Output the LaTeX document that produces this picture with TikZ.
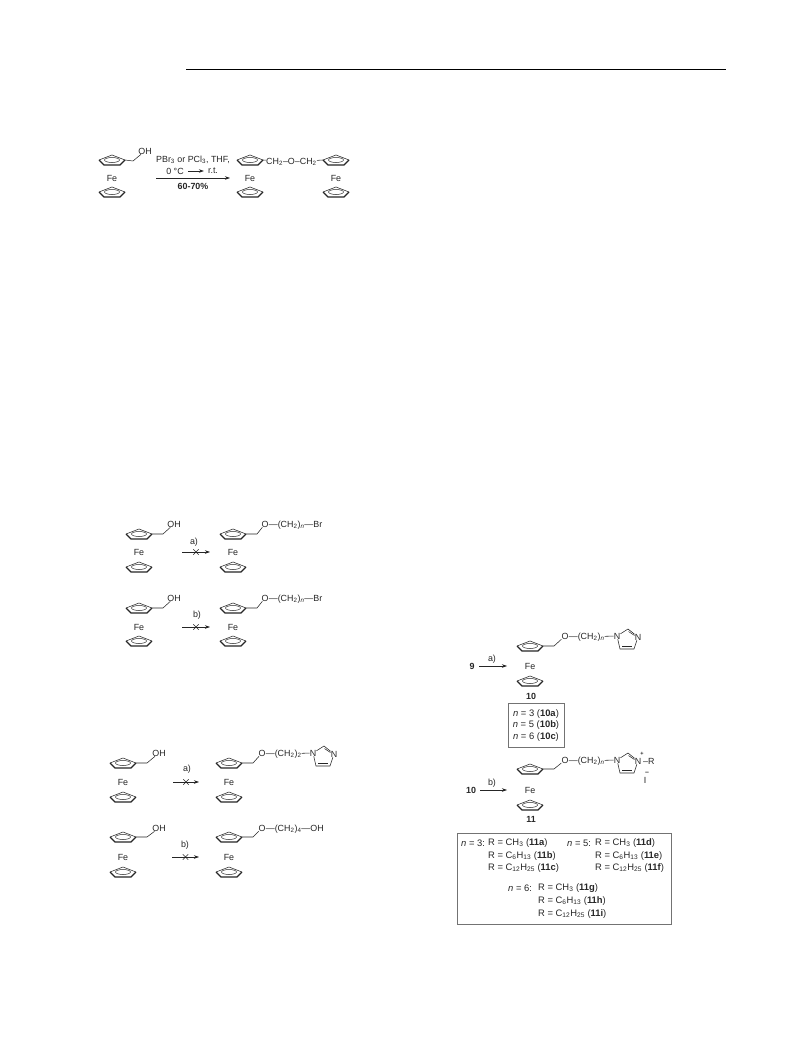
\documentclass[tikz,border=0pt]{standalone}
\usepackage{fontspec}
\setmainfont{Liberation Sans}
\usetikzlibrary{positioning,shapes.misc,arrows.meta}
\newcommand{\ssub}[1]{\textsubscript{#1}}
\tikzset{
  lbl/.style={inner sep=0pt, font=\fontsize{8.9}{10}\selectfont, text=black!85},
  boldlbl/.style={lbl, font=\fontsize{8.9}{10}\selectfont\bfseries},
  boxlbl/.style={lbl, font=\fontsize{9.4}{10}\selectfont},
  bond/.style={line width=0.55pt, draw=black!85},
  rxn/.style={line width=0.55pt, draw=black!85, -{Stealth[length=5pt,width=3.5pt]}},
  xmark/.style={cross out, draw=black!85, line width=0.45pt, minimum size=5pt, inner sep=0pt},
  framebox/.style={draw=black!55, line width=0.8pt, inner sep=0pt},
  pics/cpring/.style={code={
    \fill[white] (-13,0) -- (0,-5) -- (13,0) -- (8,5) -- (-8,5) -- cycle;
    \draw[bond] (-13,0) -- (0,-5) -- (13,0);
    \draw[line width=1.3pt, black!85, line join=round] (-13,0) -- (-8,5) -- (8,5) -- (13,0);
    \draw[line width=0.5pt, black!85] (0,0) ellipse (7.5 and 2.5);
    \coordinate (-tip) at (13,0);
    \coordinate (-lft) at (-13,0);
  }},
  pics/ferrocene/.style 2 args={code={
    \pic (-top) at (0,0) {cpring};
    \node[lbl] (-fe) at (0,#1) {Fe};
    \pic (-bot) at (0,#2) {cpring};
  }},
  pics/imidazole/.style={code={
    \node[lbl] (-n1) at (0,0) {N};
    \node[lbl] (-n3) at (21,1) {N};
    \coordinate (-c2) at (11,-7);
    \coordinate (-c4) at (17,13);
    \coordinate (-c5) at (3,13);
    \draw[bond] (-n1) -- (-c2) -- (-n3) -- (-c4) -- (-c5) -- (-n1);
    \draw[bond] (11.5,-4.5) -- (17.5,-0.5);
    \draw[bond] (5,10.5) -- (15,10.5);
  }},
}
\begin{document}
\begin{tikzpicture}[x=1pt,y=-1pt]
  \useasboundingbox (0,0) rectangle (789,1057);
  \coordinate (ruleL) at (186,69);
  \coordinate (ruleR) at (726,69);
  \draw[line width=0.7pt] (ruleL) -- (ruleR);

  % ether formation
  \pic (fa) at (112,160) {ferrocene={18}{32}};
  \node[lbl] (ohA) at (145,151) {OH};
  \draw[bond] (fa-top-tip) -- ++(8,1) -- (ohA);
  \coordinate (arA) at (156,178);
  \coordinate (arB) at (230,178);
  \draw[rxn] (arA) -- (arB);
  \node[lbl] (condA) at (193,160) {PBr\ssub{3} or PCl\ssub{3}, THF,};
  \node[lbl] (condB) at (175,171) {0 °C};
  \node[lbl] (condD) at (213,171) {r.t.};
  \draw[rxn] ([xshift=4pt]condB.east) -- ([xshift=-4pt]condD.west);
  \node[boldlbl] (condC) at (193,186) {60-70\%};
  \pic (fb) at (250,160) {ferrocene={18}{32}};
  \pic (fc) at (336,160) {ferrocene={18}{32}};
  \node[lbl, anchor=west] (ether) at (266,162) {CH\ssub{2}–O–CH\ssub{2}};
  \draw[bond] (fb-top-tip) -- (ether);
  \draw[bond] (ether) -- (fc-top-lft);

  % failed bromides
  \pic (fd) at (139,534) {ferrocene={18}{33}};
  \node[lbl] (ohB) at (174,524) {OH};
  \draw[bond] (fd-top-tip) -- ++(11,0) -- (ohB);
  \coordinate (arC) at (182,552);
  \coordinate (arD) at (210,552);
  \draw[rxn] (arC) -- node[xmark] (xa) {} (arD);
  \node[lbl] (la) at (194,542) {a)};
  \pic (fe) at (233,534) {ferrocene={18}{33}};
  \node[lbl] (oa) at (265,524) {O};
  \node[lbl, base right=0pt of oa] (cha) {—(CH\ssub{2})\ssub{\textit{n}}—Br};
  \draw[bond] (fe-top-tip) -- ++(11,0) -- (oa);

  \pic (ff) at (139,608) {ferrocene={19}{33}};
  \node[lbl] (ohC) at (174,598) {OH};
  \draw[bond] (ff-top-tip) -- ++(11,0) -- (ohC);
  \coordinate (arE) at (182,627);
  \coordinate (arF) at (210,627);
  \draw[rxn] (arE) -- node[xmark] (xb) {} (arF);
  \node[lbl] (lb) at (197,615) {b)};
  \pic (fg) at (233,608) {ferrocene={19}{33}};
  \node[lbl] (ob) at (265,598) {O};
  \node[lbl, base right=0pt of ob] (chb) {—(CH\ssub{2})\ssub{\textit{n}}—Br};
  \draw[bond] (fg-top-tip) -- ++(11,0) -- (ob);

  % failed imidazole and butanol
  \pic (fh) at (123,763) {ferrocene={19}{34}};
  \node[lbl] (ohD) at (159,753) {OH};
  \draw[bond] (fh-top-tip) -- ++(11,0) -- (ohD);
  \coordinate (arG) at (173,782);
  \coordinate (arH) at (199,782);
  \draw[rxn] (arG) -- node[xmark] (xc) {} (arH);
  \node[lbl] (lc) at (187,769) {a)};
  \pic (fi) at (229,763) {ferrocene={19}{34}};
  \node[lbl] (oc) at (262,753) {O};
  \node[lbl, base right=0pt of oc] (chc) {—(CH\ssub{2})\ssub{2}};
  \draw[bond] (fi-top-tip) -- ++(11,0) -- (oc);
  \pic (ia) at (313,753) {imidazole};
  \draw[bond] (chc) -- (ia-n1);

  \pic (fj) at (123,837) {ferrocene={20}{35}};
  \node[lbl] (ohE) at (159,828) {OH};
  \draw[bond] (fj-top-tip) -- ++(11,0) -- (ohE);
  \coordinate (arI) at (172,857);
  \coordinate (arJ) at (199,857);
  \draw[rxn] (arI) -- node[xmark] (xd) {} (arJ);
  \node[lbl] (ld) at (185,845) {b)};
  \pic (fk) at (229,837) {ferrocene={20}{35}};
  \node[lbl] (od) at (262,828) {O};
  \node[lbl, base right=0pt of od] (chd) {—(CH\ssub{2})\ssub{4}—OH};
  \draw[bond] (fk-top-tip) -- ++(11,0) -- (od);

  % compounds 10
  \node[boldlbl] (nine) at (472,666) {9};
  \coordinate (arK) at (479,666);
  \coordinate (arL) at (507,666);
  \draw[rxn] (arK) -- (arL);
  \node[lbl] (le) at (492,659) {a)};
  \pic (fl) at (530,646) {ferrocene={20}{35}};
  \node[lbl] (oe) at (565,636) {O};
  \node[lbl, base right=0pt of oe] (che) {—(CH\ssub{2})\ssub{\textit{n}}};
  \draw[bond] (fl-top-tip) -- ++(11,0) -- (oe);
  \pic (ib) at (617,636) {imidazole};
  \draw[bond] (che) -- (ib-n1);
  \node[boldlbl] (ten) at (531,696) {10};
  \node[framebox, minimum width=56pt, minimum height=44pt] (boxA) at (536,725) {};
  \node[boxlbl] (ta) at (536,714) {\textit{n} = 3 (\textbf{10a})};
  \node[boxlbl] (tb) at (536,725) {\textit{n} = 5 (\textbf{10b})};
  \node[boxlbl] (tc) at (536,737) {\textit{n} = 6 (\textbf{10c})};

  % compounds 11
  \node[boldlbl] (tenB) at (471,790) {10};
  \coordinate (arM) at (480,790);
  \coordinate (arN) at (507,790);
  \draw[rxn] (arM) -- (arN);
  \node[lbl] (lf) at (492,783) {b)};
  \pic (fm) at (530,769) {ferrocene={21}{36}};
  \node[lbl] (of) at (565,760) {O};
  \node[lbl, base right=0pt of of] (chf) {—(CH\ssub{2})\ssub{\textit{n}}};
  \draw[bond] (fm-top-tip) -- ++(11,0) -- (of);
  \pic (ic) at (617,760) {imidazole};
  \draw[bond] (chf) -- (ic-n1);
  \node[lbl] (plus) at (642,754) {\fontsize{5.5}{6}\selectfont\textbf{+}};
  \node[lbl, anchor=west] (rgrp) at (643,761) {–R};
  \node[lbl] (iod) at (645,780) {I};
  \node[lbl] (minus) at (647,773) {\fontsize{7}{8}\selectfont\textbf{–}};
  \node[boldlbl] (eleven) at (531,819) {11};
  \node[framebox, minimum width=214pt, minimum height=91pt] (boxB) at (564,878.5) {};

  \node[boxlbl, anchor=west] (nA) at (461,843) {\textit{n} = 3:};
  \node[boxlbl, anchor=west] (ra) at (488,843) {R = CH\ssub{3} (\textbf{11a})};
  \node[boxlbl, anchor=west] (rb) at (488,856) {R = C\ssub{6}H\ssub{13} (\textbf{11b})};
  \node[boxlbl, anchor=west] (rc) at (488,868) {R = C\ssub{12}H\ssub{25} (\textbf{11c})};
  \node[boxlbl, anchor=west] (nB) at (567,843) {\textit{n} = 5:};
  \node[boxlbl, anchor=west] (rd) at (595,843) {R = CH\ssub{3} (\textbf{11d})};
  \node[boxlbl, anchor=west] (re) at (595,856) {R = C\ssub{6}H\ssub{13} (\textbf{11e})};
  \node[boxlbl, anchor=west] (rf) at (595,868) {R = C\ssub{12}H\ssub{25} (\textbf{11f})};
  \node[boxlbl, anchor=west] (nC) at (508,888) {\textit{n} = 6:};
  \node[boxlbl, anchor=west] (rg) at (538,888) {R = CH\ssub{3} (\textbf{11g})};
  \node[boxlbl, anchor=west] (rh) at (538,901) {R = C\ssub{6}H\ssub{13} (\textbf{11h})};
  \node[boxlbl, anchor=west] (ri) at (538,914) {R = C\ssub{12}H\ssub{25} (\textbf{11i})};
\end{tikzpicture}
\end{document}
